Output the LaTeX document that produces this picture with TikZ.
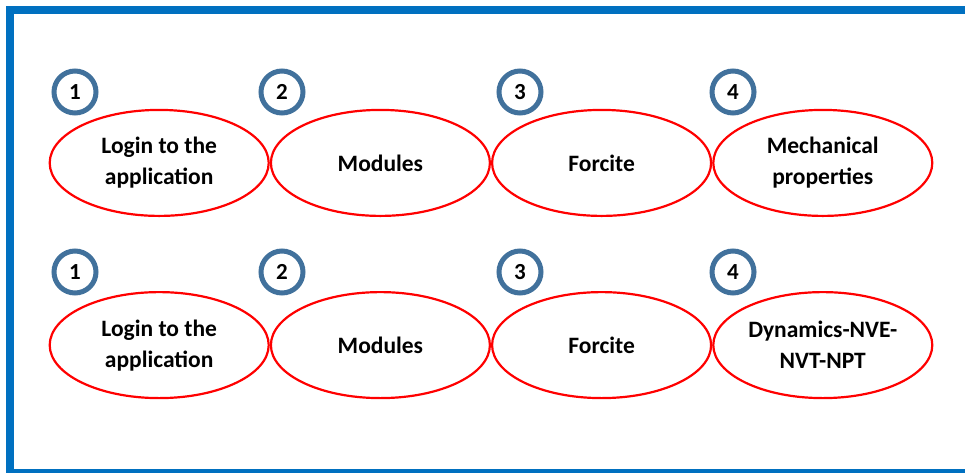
\documentclass[tikz,border=0pt]{standalone}
\usepackage{fontspec}
\setmainfont{Carlito}
\usetikzlibrary{shapes.geometric}
\definecolor{frameblue}{RGB}{0,112,192}
\definecolor{taskred}{RGB}{255,0,0}
\definecolor{numblue}{RGB}{65,113,156}

\begin{document}
\begin{tikzpicture}[x=1pt,y=-1pt,
  every matrix/.style={ampersand replacement=\&,column sep=0pt,row sep=74pt},
  task/.style={ellipse, draw=taskred, line width=2.2pt, outer sep=0pt, inner sep=0pt,
    minimum width=219pt, minimum height=106pt, font=\bfseries\fontsize{23.5}{31}\selectfont},
  num/.style={circle, draw=numblue, line width=5pt, minimum size=42pt, inner sep=0pt,
    font=\bfseries\fontsize{23}{27}\selectfont},
  frame/.style={draw=frameblue, line width=8pt},
  every node/.style={align=center}]

\useasboundingbox (0,0) rectangle (965,472);
\clip (0,0) rectangle (965,472);

% Outer frame
\draw[frame] (10,10) rectangle (990,473);

% Position the ellipses using a matrix layout
\matrix (steps) at (491,254) {
  \node[task] (login1) {Login to the \\ application};
  \& \node[task] (modules1) {Modules};
  \& \node[task] (forcite1) {Forcite};
  \& \node[task] (mechprop) {Mechanical \\ properties};
  \\
  \node[task] (login2) {Login to the \\ application};
  \& \node[task] (modules2) {Modules};
  \& \node[task] (forcite2) {Forcite};
  \& \node[task] (dynamics) {Dynamics-NVE- \\ NVT-NPT};
  \\
};

% Step numbers above each row
\foreach \x/\n in {75/1,282/2,520/3,733/4} {
  \node[num] (numA\n) at (\x,92) {\n};
  \node[num] (numB\n) at (\x,272) {\n};
}

\end{tikzpicture}
\end{document}
